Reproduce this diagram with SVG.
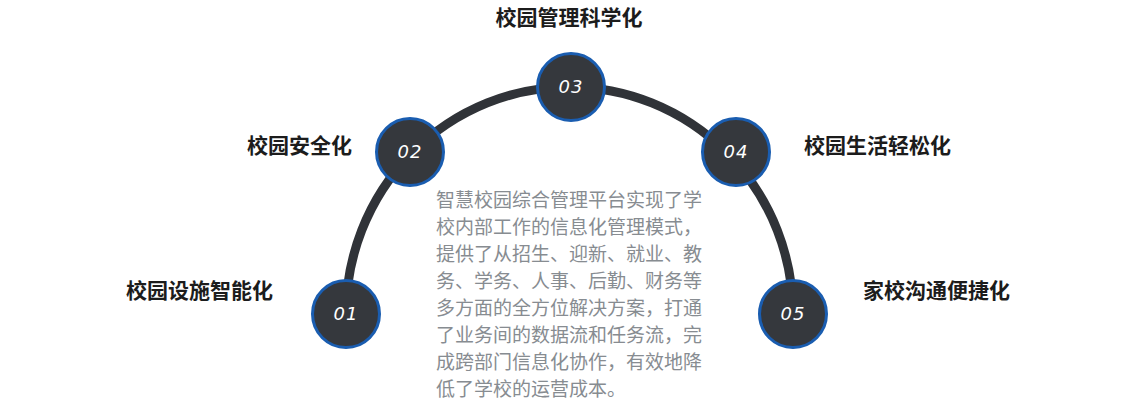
<svg xmlns="http://www.w3.org/2000/svg" width="1137" height="404" viewBox="0 0 1137 404">
<style>
.title{font-family:"Noto Sans CJK SC","Noto Sans",sans-serif;font-size:21px;font-weight:bold;fill:#1c1c1c}
.dot{fill:#35383d;stroke:#1a5db0;stroke-width:3}
.num{font-family:"DejaVu Sans","Liberation Sans",sans-serif;font-size:18px;font-style:italic;fill:#ffffff;text-anchor:middle;letter-spacing:1px}
.desc{font-family:"Noto Sans CJK SC","Noto Sans",sans-serif;font-size:19px;fill:#878c91}
</style>
<rect width="1137" height="404" fill="#ffffff"/>
<g id="connectors">
<path d="M 346 314 A 223.5 227 0 0 1 793 314" fill="none" stroke="#303338" stroke-width="9"/>
</g>
<g id="node01">
<circle class="dot" cx="346" cy="314" r="33.5"/>
<text class="num" x="346" y="320">01</text>
<text class="title" x="273" y="298" text-anchor="end">校园设施智能化</text>
</g>
<g id="node02">
<circle class="dot" cx="410" cy="152" r="33.5"/>
<text class="num" x="410" y="158">02</text>
<text class="title" x="352" y="153" text-anchor="end">校园安全化</text>
</g>
<g id="node03">
<circle class="dot" cx="571" cy="87" r="33.5"/>
<text class="num" x="571" y="93">03</text>
<text class="title" x="569" y="25" text-anchor="middle">校园管理科学化</text>
</g>
<g id="node04">
<circle class="dot" cx="736" cy="152" r="33.5"/>
<text class="num" x="736" y="158">04</text>
<text class="title" x="804" y="153">校园生活轻松化</text>
</g>
<g id="node05">
<circle class="dot" cx="793" cy="314" r="33.5"/>
<text class="num" x="793" y="320">05</text>
<text class="title" x="863" y="298">家校沟通便捷化</text>
</g>
<g id="description">
<text class="desc" x="436" y="207">智慧校园综合管理平台实现了学</text>
<text class="desc" x="436" y="234">校内部工作的信息化管理模式，</text>
<text class="desc" x="436" y="261">提供了从招生、迎新、就业、教</text>
<text class="desc" x="436" y="288">务、学务、人事、后勤、财务等</text>
<text class="desc" x="436" y="315">多方面的全方位解决方案，打通</text>
<text class="desc" x="436" y="342">了业务间的数据流和任务流，完</text>
<text class="desc" x="436" y="369">成跨部门信息化协作，有效地降</text>
<text class="desc" x="436" y="396">低了学校的运营成本。</text>
</g>
</svg>
